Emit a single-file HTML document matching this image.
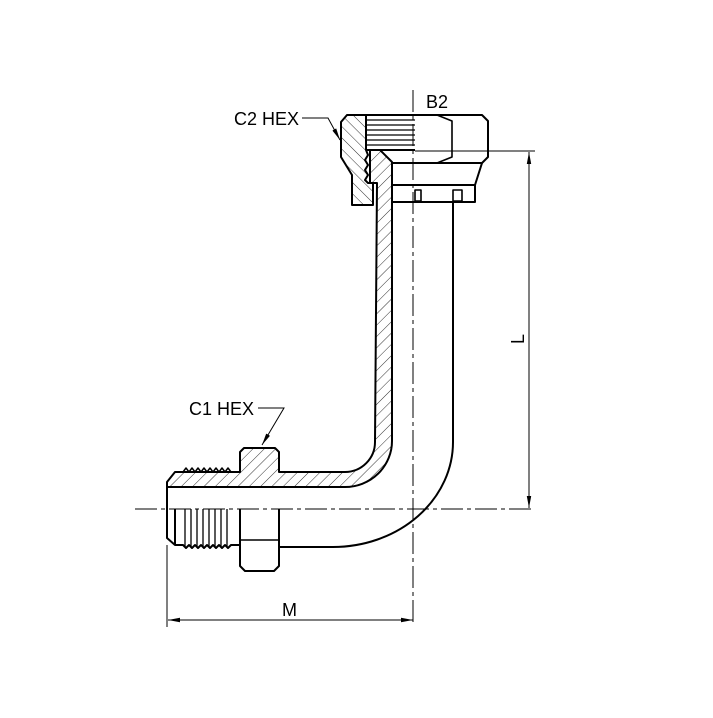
<!DOCTYPE html>
<html><head><meta charset="utf-8"><style>html,body{margin:0;padding:0;background:#fff}</style></head>
<body>
<svg width="713" height="713" viewBox="0 0 713 713" xmlns="http://www.w3.org/2000/svg" font-family="Liberation Sans, sans-serif">
<defs>
<pattern id="h" patternUnits="userSpaceOnUse" width="8" height="8" patternTransform="rotate(45)">
<rect width="8" height="8" fill="#fff"/>
<line x1="0" y1="0" x2="0" y2="8" stroke="#333" stroke-width="1"/>
</pattern>
<pattern id="h2" patternUnits="userSpaceOnUse" width="8" height="8" patternTransform="rotate(-45)">
<rect width="8" height="8" fill="#fff"/>
<line x1="0" y1="0" x2="0" y2="8" stroke="#333" stroke-width="1"/>
</pattern>
<marker id="a" markerWidth="12" markerHeight="6" refX="12" refY="3" orient="auto" markerUnits="userSpaceOnUse">
<path d="M0,0.8 L12,3 L0,5.2z" fill="#000"/>
</marker>
</defs>
<g fill="none" stroke="#000" stroke-width="2" stroke-linejoin="round">
<path d="M347,115 L366,115 L366,150 L368,155 L365,160 L368,165 L365,170 L368,175 L365,180 L368,183 L373,183 L373,205 L352,205 L352,175 L341,157 L341,122 Z" fill="url(#h2)"/>
<g stroke-width="1.3">
<line x1="366" y1="120" x2="415" y2="120"/><line x1="366" y1="125" x2="415" y2="125"/>
<line x1="366" y1="130" x2="415" y2="130"/><line x1="366" y1="135" x2="415" y2="135"/>
<line x1="366" y1="140" x2="415" y2="140"/><line x1="366" y1="145" x2="415" y2="145"/>
</g>
<line x1="366" y1="150" x2="415" y2="150"/>
<path d="M366,115 L482,115 L488,121 L488,157 L482,163 L392,163"/>
<path d="M437,115 L452,121 L452,157 L437,163" stroke-width="1.6"/>
<path d="M482,163 L475,185 L475,202 L392,202"/>
<line x1="392" y1="185" x2="475" y2="185"/>
<rect x="415" y="190" width="6" height="11" stroke-width="1.6"/>
<rect x="453" y="190" width="9" height="11" stroke-width="1.6"/>
<path d="M370,150 L380,150 L392,162 L392,441 A47,46 0 0 1 345,487 L278,487 L167,487 L167,482 L175,472 L240,472 L240,452 L244,448 L275,448 L279,452 L279,472 L345,472 A30,30 0 0 0 375,442 L377,183 L370,183 Z" fill="url(#h)"/>
<path d="M183,472 l3,-4 l3,4 l3,-4 l3,4 l3,-4 l3,4 l3,-4 l3,4 l3,-4 l3,4 l3,-4 l3,4 l3,-4 l3,4 l3,-4 l3,4" stroke-width="1.5"/>
<line x1="167" y1="487" x2="345" y2="487"/>
<path d="M453,202 L453,442 A120,105 0 0 1 333,547 L279,547"/>
<path d="M167,487 L167,538 L175,545 L183,545 l3,3 l3,-3 l3,3 l3,-3 l3,3 l3,-3 l3,3 l3,-3 l3,3 l3,-3 l3,3 l3,-3 l3,3 l3,-3 l3,3 l3,-3 L240,545"/>
<line x1="175" y1="509" x2="175" y2="545"/>
<g stroke-width="1.3">
<line x1="185" y1="509" x2="185" y2="547"/><line x1="191" y1="509" x2="191" y2="547"/>
<line x1="197" y1="509" x2="197" y2="547"/><line x1="203" y1="509" x2="203" y2="547"/>
<line x1="209" y1="509" x2="209" y2="547"/><line x1="215" y1="509" x2="215" y2="547"/>
<line x1="221" y1="509" x2="221" y2="547"/><line x1="227" y1="509" x2="227" y2="547"/>
</g>
<path d="M240,509 L240,566 L245,571 L274,571 L279,566 L279,509"/>
<path d="M240,540 L279,540" stroke-width="1.6"/>
</g>
<g stroke="#000" stroke-width="1" fill="none" stroke-dasharray="22,4,4,4">
<line x1="413" y1="90" x2="413" y2="625"/>
<line x1="135" y1="509" x2="535" y2="509"/>
</g>
<g stroke="#000" stroke-width="1" fill="none">
<line x1="415" y1="151" x2="535" y2="151"/>
<line x1="529" y1="330" x2="529" y2="152" marker-end="url(#a)"/>
<line x1="529" y1="330" x2="529" y2="508" marker-end="url(#a)"/>
<line x1="167" y1="545" x2="167" y2="627"/>
<line x1="290" y1="620" x2="168" y2="620" marker-end="url(#a)"/>
<line x1="290" y1="620" x2="413" y2="620" marker-end="url(#a)"/>
<path d="M302,118 L328,118 L340,140" marker-end="url(#a)"/>
<path d="M258,408 L284,408 L262,445" marker-end="url(#a)"/>
</g>
<g font-size="18" fill="#000">
<text x="234" y="125">C2 HEX</text>
<text x="426" y="108">B2</text>
<text x="189" y="415">C1 HEX</text>
<text x="282" y="616">M</text>
<text x="0" y="0" transform="translate(524,344) rotate(-90)">L</text>
</g>
</svg>
</body></html>
